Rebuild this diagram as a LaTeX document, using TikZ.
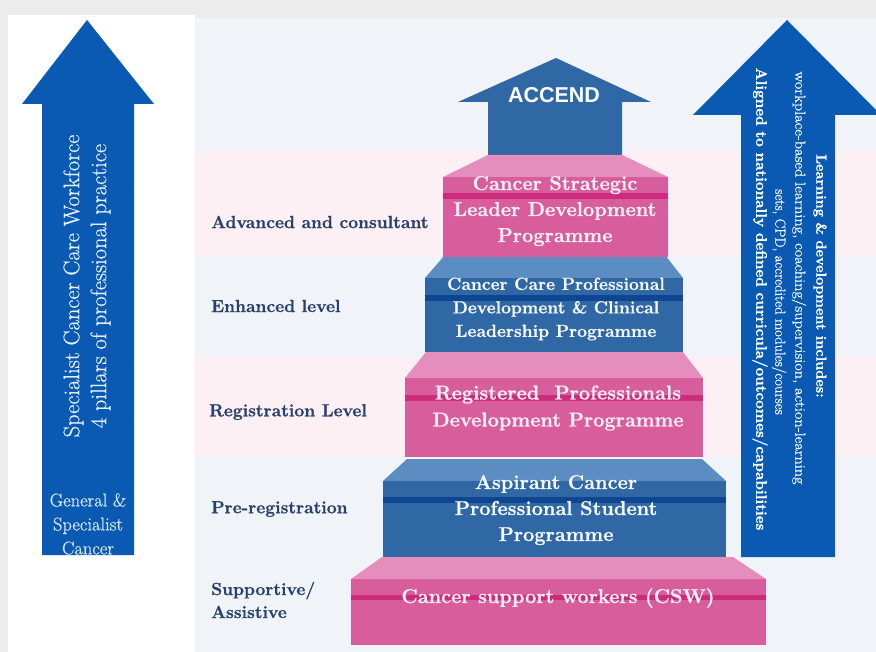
\documentclass[tikz,border=0pt]{standalone}
\usepackage{fontspec}
\usepackage{graphicx}
\setmainfont{Latin Modern Roman}[BoldFeatures={FakeBold=0.9}]
\newfontfamily\medfont{Latin Modern Roman}[FakeBold=0.5]
\newfontfamily\arialfont{Liberation Sans}
\definecolor{outergray}{RGB}{236,236,236}
\definecolor{panelblue}{RGB}{240,244,248}
\definecolor{bandpink}{RGB}{252,240,245}
\definecolor{arrowblue}{RGB}{10,90,180}
\definecolor{bluefront}{RGB}{48,104,166}
\definecolor{bluebevel}{RGB}{92,141,194}
\definecolor{bluestripe}{RGB}{14,70,146}
\definecolor{pinkfront}{RGB}{216,93,156}
\definecolor{pinkbevel}{RGB}{229,141,188}
\definecolor{pinkstripe}{RGB}{205,44,125}
\definecolor{navytext}{RGB}{40,64,108}
\definecolor{pinktext}{RGB}{252,238,245}
\definecolor{bluetext}{RGB}{244,247,252}
\definecolor{arrowtext}{RGB}{232,241,251}
\definecolor{arrowtextb}{RGB}{215,232,250}
\tikzset{
  leveltext/.style={anchor=west, text=navytext, font=\bfseries\fontsize{17.5}{23}\selectfont, align=left, inner sep=0pt},
  steptext/.style={font=\bfseries\fontsize{20}{26}\selectfont, align=center, inner sep=0pt},
  sidetext/.style={inner sep=0pt, text=white},
}
\begin{document}
\begin{tikzpicture}[x=1pt,y=-1pt]
\useasboundingbox (0,0) rectangle (876,652);
% backgrounds
\fill[outergray] (0,0) rectangle (876,652);
\fill[white] (8,15) rectangle (195,652);
\fill[panelblue] (195,18) rectangle (876,652);
\fill[bandpink] (195,150) rectangle (876,257);
\fill[bandpink] (195,357) rectangle (876,457);
% left arrow
\fill[arrowblue] (87,20) -- (154,104) -- (134,104) -- (134,555) -- (42,555) -- (42,104) -- (22,104) -- cycle;
% right arrow
\fill[arrowblue] (787,20) -- (881,115) -- (835,115) -- (835,557) -- (741,557) -- (741,115) -- (693,115) -- cycle;
% ACCEND arrow
\fill[bluefront] (556,58) -- (651,102) -- (622,102) -- (622,156) -- (488,156) -- (488,102) -- (458,102) -- cycle;
% step 1 (pink)
\fill[pinkbevel] (382,557) -- (733,557) -- (766,579) -- (351,579) -- cycle;
\fill[pinkfront] (351,579) rectangle (766,645);
\fill[pinkstripe] (351,595) rectangle (766,600);
% step 2 (blue)
\fill[bluebevel] (407,459) -- (702,459) -- (726,481) -- (383,481) -- cycle;
\fill[bluefront] (383,481) rectangle (726,557);
\fill[bluestripe] (383,497) rectangle (726,503);
% step 3 (pink)
\fill[pinkbevel] (426,352) -- (683,352) -- (703,378) -- (405,378) -- cycle;
\fill[pinkfront] (405,378) rectangle (703,457);
\fill[pinkstripe] (405,395) rectangle (703,401);
% step 4 (blue)
\fill[bluebevel] (445,255) -- (665,255) -- (683,278) -- (425,278) -- cycle;
\fill[bluefront] (425,278) rectangle (683,352);
\fill[bluestripe] (425,295) rectangle (683,301);
% step 5 (pink)
\fill[pinkbevel] (488,155) -- (622,155) -- (668,177) -- (443,177) -- cycle;
\fill[pinkfront] (443,177) rectangle (668,257);
\fill[pinkstripe] (443,193) rectangle (668,199);
% step texts
\node[steptext, text=pinktext] (csw) at (558,598) {Cancer support workers (CSW)};
\node[steptext, text=bluetext] (asp) at (556,510) {Aspirant Cancer\\Professional Student\\Programme};
\node[steptext, text=pinktext, font=\bfseries\fontsize{20}{27}\selectfont] (reg) at (558,408) {Registered~~Professionals\\Development Programme};
\node[steptext, text=bluetext, font=\bfseries\fontsize{17.5}{23.5}\selectfont] (ccp) at (556,309) {Cancer Care Professional\\Development \& Clinical\\Leadership Programme};
\node[steptext, text=pinktext] (csl) at (555,211) {Cancer Strategic\\Leader Development\\Programme};
\node[inner sep=0pt, text=white, font=\arialfont\bfseries\fontsize{21.5}{24}\selectfont] (accend) at (554,95) {ACCEND};
% level labels
\node[leveltext] (lv5) at (211,222) {Advanced and consultant};
\node[leveltext] (lv4) at (211,306) {Enhanced level};
\node[leveltext] (lv3) at (209,412) {Registration Level};
\node[leveltext] (lv2) at (211,509) {Pre-registration};
\node[leveltext] (lv1) at (211,600) {Supportive/\\Assistive};
% left arrow texts
\node[sidetext, text=arrowtext, rotate=90, align=center, font=\medfont\fontsize{22.5}{27}\selectfont] (workforce) at (87,286) {Specialist Cancer Care Workforce\\4 pillars of professional practice};
\node[sidetext, text=arrowtextb, align=center, font=\medfont\fontsize{18.5}{24}\selectfont] (general) at (88,524) {General \&\\Specialist\\Cancer};
% right arrow texts
\node[sidetext, rotate=-90, font=\bfseries\fontsize{14.5}{18}\selectfont] (learn) at (820,276) {Learning \& development includes:};
\node[sidetext, rotate=-90, font=\medfont\fontsize{14.5}{18}\selectfont] (workplace) at (799,278) {\scalebox{1.12}[1]{workplace-based learning, coaching/supervision, action-learning}};
\node[sidetext, rotate=-90, font=\medfont\fontsize{14.5}{18}\selectfont] (sets) at (779,302) {sets, CPD, accredited modules/courses};
\node[sidetext, rotate=-90, font=\bfseries\fontsize{15.3}{18}\selectfont] (aligned) at (760,299) {Aligned to nationally defined curricula/outcomes/capabilities};
\end{tikzpicture}
\end{document}
